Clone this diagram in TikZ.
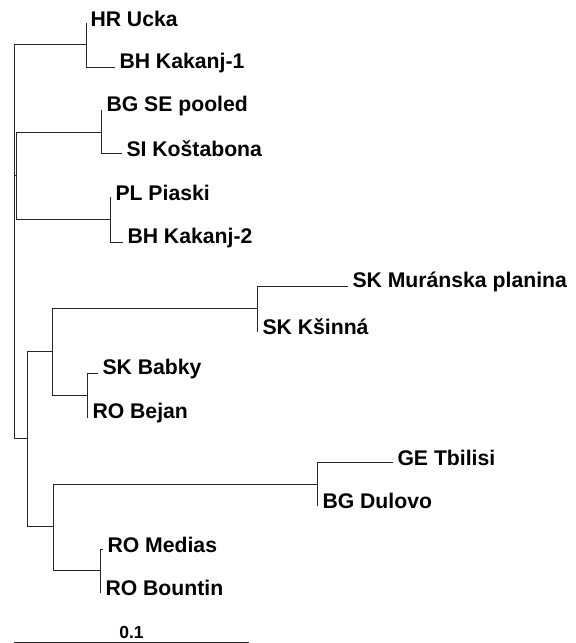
\documentclass[tikz,border=0pt]{standalone}
\usepackage{fontspec}
\setmainfont{Liberation Sans}
\usepackage{tikz}
\tikzset{>=latex}
\tikzset{branch/.style={line width=1pt, black!85},
	taxon/.style={anchor=west, inner sep=0pt, xshift=4pt, yshift=4pt, text=black, font=\fontsize{21.2}{24}\selectfont\bfseries}}

\begin{document}
\begin{tikzpicture}[x=1pt, y=-1pt]
	\useasboundingbox (0,0) rectangle (576,643);
	% inner nodes
	\coordinate (root) at (14,273.5);
	\coordinate (top) at (14,109);
	\coordinate (hrc) at (86,44);
	\coordinate (bgpl) at (16,175);
	\coordinate (bgc) at (101,132);
	\coordinate (plc) at (110,219);
	\coordinate (low) at (27,438);
	\coordinate (skc) at (52,351);
	\coordinate (murc) at (257,308);
	\coordinate (babc) at (87,395);
	\coordinate (gec) at (53,526);
	\coordinate (gedc) at (317,484);
	\coordinate (medc) at (100,570);
	% leaves
	\coordinate (hr) at (86,23);
	\coordinate (bh1) at (115,67);
	\coordinate (bgse) at (102,110);
	\coordinate (si) at (122,153);
	\coordinate (pl) at (111,197);
	\coordinate (bh2) at (123,242);
	\coordinate (mur) at (348,286);
	\coordinate (ksi) at (258,331);
	\coordinate (bab) at (98,373);
	\coordinate (bej) at (88,417);
	\coordinate (ge) at (393,462);
	\coordinate (dul) at (318,505);
	\coordinate (med) at (103,549);
	\coordinate (bou) at (101,592);

	\draw[branch] (root) |- (top);
	\draw[branch] (root) |- (low);
	\draw[branch] (top) |- (hrc);
	\draw[branch] (top) |- (bgpl);
	\draw[branch] (bgpl) |- (bgc);
	\draw[branch] (bgpl) |- (plc);
	\draw[branch] (low) |- (skc);
	\draw[branch] (low) |- (gec);
	\draw[branch] (skc) |- (murc);
	\draw[branch] (skc) |- (babc);
	\draw[branch] (gec) |- (gedc);
	\draw[branch] (gec) |- (medc);

	\draw[branch] (hrc) |- (hr) node[taxon] {HR Ucka};
	\draw[branch] (hrc) |- (bh1) node[taxon] {BH Kakanj-1};
	\draw[branch] (bgc) |- (bgse) node[taxon] {BG SE pooled};
	\draw[branch] (bgc) |- (si) node[taxon] {SI Koštabona};
	\draw[branch] (plc) |- (pl) node[taxon] {PL Piaski};
	\draw[branch] (plc) |- (bh2) node[taxon] {BH Kakanj-2};
	\draw[branch] (murc) |- (mur) node[taxon] {SK Muránska planina};
	\draw[branch] (murc) |- (ksi) node[taxon] {SK Kšinná};
	\draw[branch] (babc) |- (bab) node[taxon] {SK Babky};
	\draw[branch] (babc) |- (bej) node[taxon] {RO Bejan};
	\draw[branch] (gedc) |- (ge) node[taxon] {GE Tbilisi};
	\draw[branch] (gedc) |- (dul) node[taxon] {BG Dulovo};
	\draw[branch] (medc) |- (med) node[taxon] {RO Medias};
	\draw[branch] (medc) |- (bou) node[taxon] {RO Bountin};

	% scale bar
	\coordinate (bar0) at (14,642);
	\coordinate (bar1) at (249,642);
	\draw[branch] (bar0) -- node[above, inner sep=2.5pt, text=black, font=\fontsize{17.5}{20}\selectfont\bfseries] {0.1} (bar1);
\end{tikzpicture}
\end{document}
